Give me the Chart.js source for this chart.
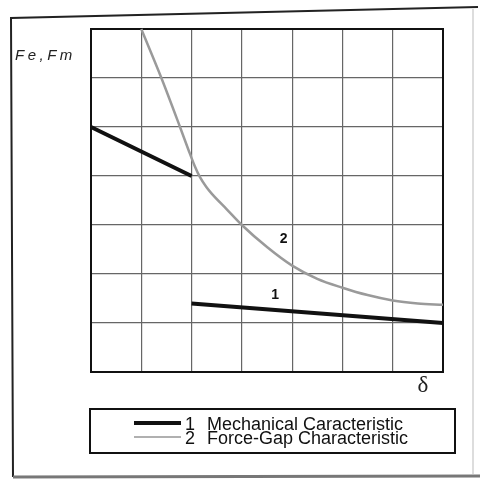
<!DOCTYPE html>
<html>
<head>
<meta charset="utf-8">
<script src="https://cdn.jsdelivr.net/npm/chart.js@4/dist/chart.umd.min.js"></script>
<style>
  html, body { margin: 0; padding: 0; background: #ffffff; }
  #wrap { width: 480px; height: 480px; position: relative; }
</style>
</head>
<body>
<div id="wrap"><canvas id="c" width="480" height="480"></canvas></div>
<script>
// Gap δ in grid divisions, forces in grid divisions
const gridTicks = [0, 1, 2, 3, 4, 5, 6, 7];

// 1 – mechanical characteristic (two straight pieces, break at δ = 2)
const mechX = [0, 2, 2, 2, 7];
const mechY = [5, 4, null, 1.4, 1.0];

// 2 – force-gap characteristic
const forceX = [1, 1.4, 1.77, 1.95, 2.06, 2.17, 2.29, 2.4, 2.7, 3, 3.5, 4, 4.5, 5, 5.5, 6, 6.5, 7];
const forceY = [7, 6, 5, 4.5, 4.21, 3.97, 3.78, 3.64, 3.32, 3, 2.55, 2.17, 1.9, 1.72, 1.57, 1.46, 1.4, 1.37];

const seriesNames = ['Mechanical Caracteristic', 'Force-Gap Characteristic'];
const seriesNumbers = ['1', '2'];
const axisYTitle = 'Fe,Fm';
const axisXTitle = 'δ';

const toPoints = (xs, ys) => xs.map((x, i) => ({ x: x, y: ys[i] }));

const decorations = {
  id: 'decorations',
  beforeDraw(chart) {
    const ctx = chart.ctx;
    ctx.save();
    ctx.fillStyle = '#ffffff';
    ctx.fillRect(0, 0, chart.width, chart.height);
    // outer page frame
    ctx.strokeStyle = '#222';
    ctx.lineWidth = 2;
    ctx.beginPath();
    ctx.moveTo(13, 477);
    ctx.lineTo(11, 18);
    ctx.lineTo(478, 7);
    ctx.stroke();
    ctx.strokeStyle = '#777';
    ctx.lineWidth = 3;
    ctx.beginPath();
    ctx.moveTo(13, 477);
    ctx.lineTo(480, 476);
    ctx.stroke();
    ctx.strokeStyle = '#bbb';
    ctx.lineWidth = 1;
    ctx.beginPath();
    ctx.moveTo(473, 9);
    ctx.lineTo(473, 475);
    ctx.stroke();
    ctx.restore();
  },
  beforeDatasetsDraw(chart) {
    const { ctx, chartArea: a } = chart;
    ctx.save();
    ctx.strokeStyle = '#111';
    ctx.lineWidth = 2;
    ctx.strokeRect(a.left, a.top, a.right - a.left, a.bottom - a.top);
    ctx.restore();
  },
  afterDraw(chart) {
    const { ctx } = chart;
    const xs = chart.scales.x, ys = chart.scales.y;
    ctx.save();
    // axis titles
    ctx.fillStyle = '#222';
    ctx.font = 'italic 15px "Liberation Sans", Arial, sans-serif';
    ctx.letterSpacing = '3.5px';
    ctx.textBaseline = 'middle';
    ctx.textAlign = 'left';
    ctx.fillText(axisYTitle, 15, 56);
    ctx.letterSpacing = '0px';
    ctx.font = '23px "Liberation Serif", "Times New Roman", serif';
    ctx.textAlign = 'center';
    ctx.fillText(axisXTitle, 423, 386);

    // curve numbers placed next to their lines
    ctx.font = 'bold 14px "Liberation Sans", Arial, sans-serif';
    ctx.fillStyle = '#111';
    ctx.fillText(seriesNumbers[1], xs.getPixelForValue(3.83), ys.getPixelForValue(2.72));
    ctx.fillText(seriesNumbers[0], xs.getPixelForValue(3.66), ys.getPixelForValue(1.57));

    // legend box
    ctx.strokeStyle = '#111';
    ctx.lineWidth = 2;
    ctx.strokeRect(90, 409, 365, 44);
    const rows = [430, 444];
    chart.data.datasets.forEach((ds, i) => {
      const y = rows[i];
      ctx.strokeStyle = ds.legendColor;
      ctx.lineWidth = ds.legendWidth;
      ctx.beginPath();
      ctx.moveTo(134, y - 7);
      ctx.lineTo(181, y - 7);
      ctx.stroke();
      ctx.fillStyle = '#111';
      ctx.font = '18px "Liberation Sans", Arial, sans-serif';
      ctx.textAlign = 'left';
      ctx.textBaseline = 'alphabetic';
      ctx.fillText(seriesNumbers[i], 185, y);
      ctx.fillText(ds.label, 207, y);
    });
    ctx.restore();
  }
};

new Chart(document.getElementById('c'), {
  type: 'line',
  data: {
    datasets: [
      {
        label: seriesNames[0],
        data: toPoints(mechX, mechY),
        borderColor: '#111111',
        borderWidth: 4,
        legendColor: '#111111',
        legendWidth: 4,
        pointRadius: 0,
        spanGaps: false,
        tension: 0,
        clip: false
      },
      {
        label: seriesNames[1],
        data: toPoints(forceX, forceY),
        borderColor: '#9a9a9a',
        borderWidth: 2.5,
        legendColor: '#b0b0b0',
        legendWidth: 2,
        pointRadius: 0,
        cubicInterpolationMode: 'monotone',
        clip: false
      }
    ]
  },
  options: {
    responsive: false,
    animation: false,
    devicePixelRatio: 1,
    layout: { padding: { left: 91, right: 37, top: 29, bottom: 108 } },
    plugins: { legend: { display: false }, tooltip: { enabled: false } },
    scales: {
      x: {
        type: 'linear',
        min: 0, max: 7,
        afterBuildTicks(scale) { scale.ticks = gridTicks.map(v => ({ value: v })); },
        ticks: { display: false },
        grid: { color: '#666', lineWidth: 1.2, drawTicks: false },
        border: { display: false }
      },
      y: {
        type: 'linear',
        min: 0, max: 7,
        afterBuildTicks(scale) { scale.ticks = gridTicks.map(v => ({ value: v })); },
        ticks: { display: false },
        grid: { color: '#666', lineWidth: 1.2, drawTicks: false },
        border: { display: false }
      }
    }
  },
  plugins: [decorations]
});
</script>
</body>
</html>
